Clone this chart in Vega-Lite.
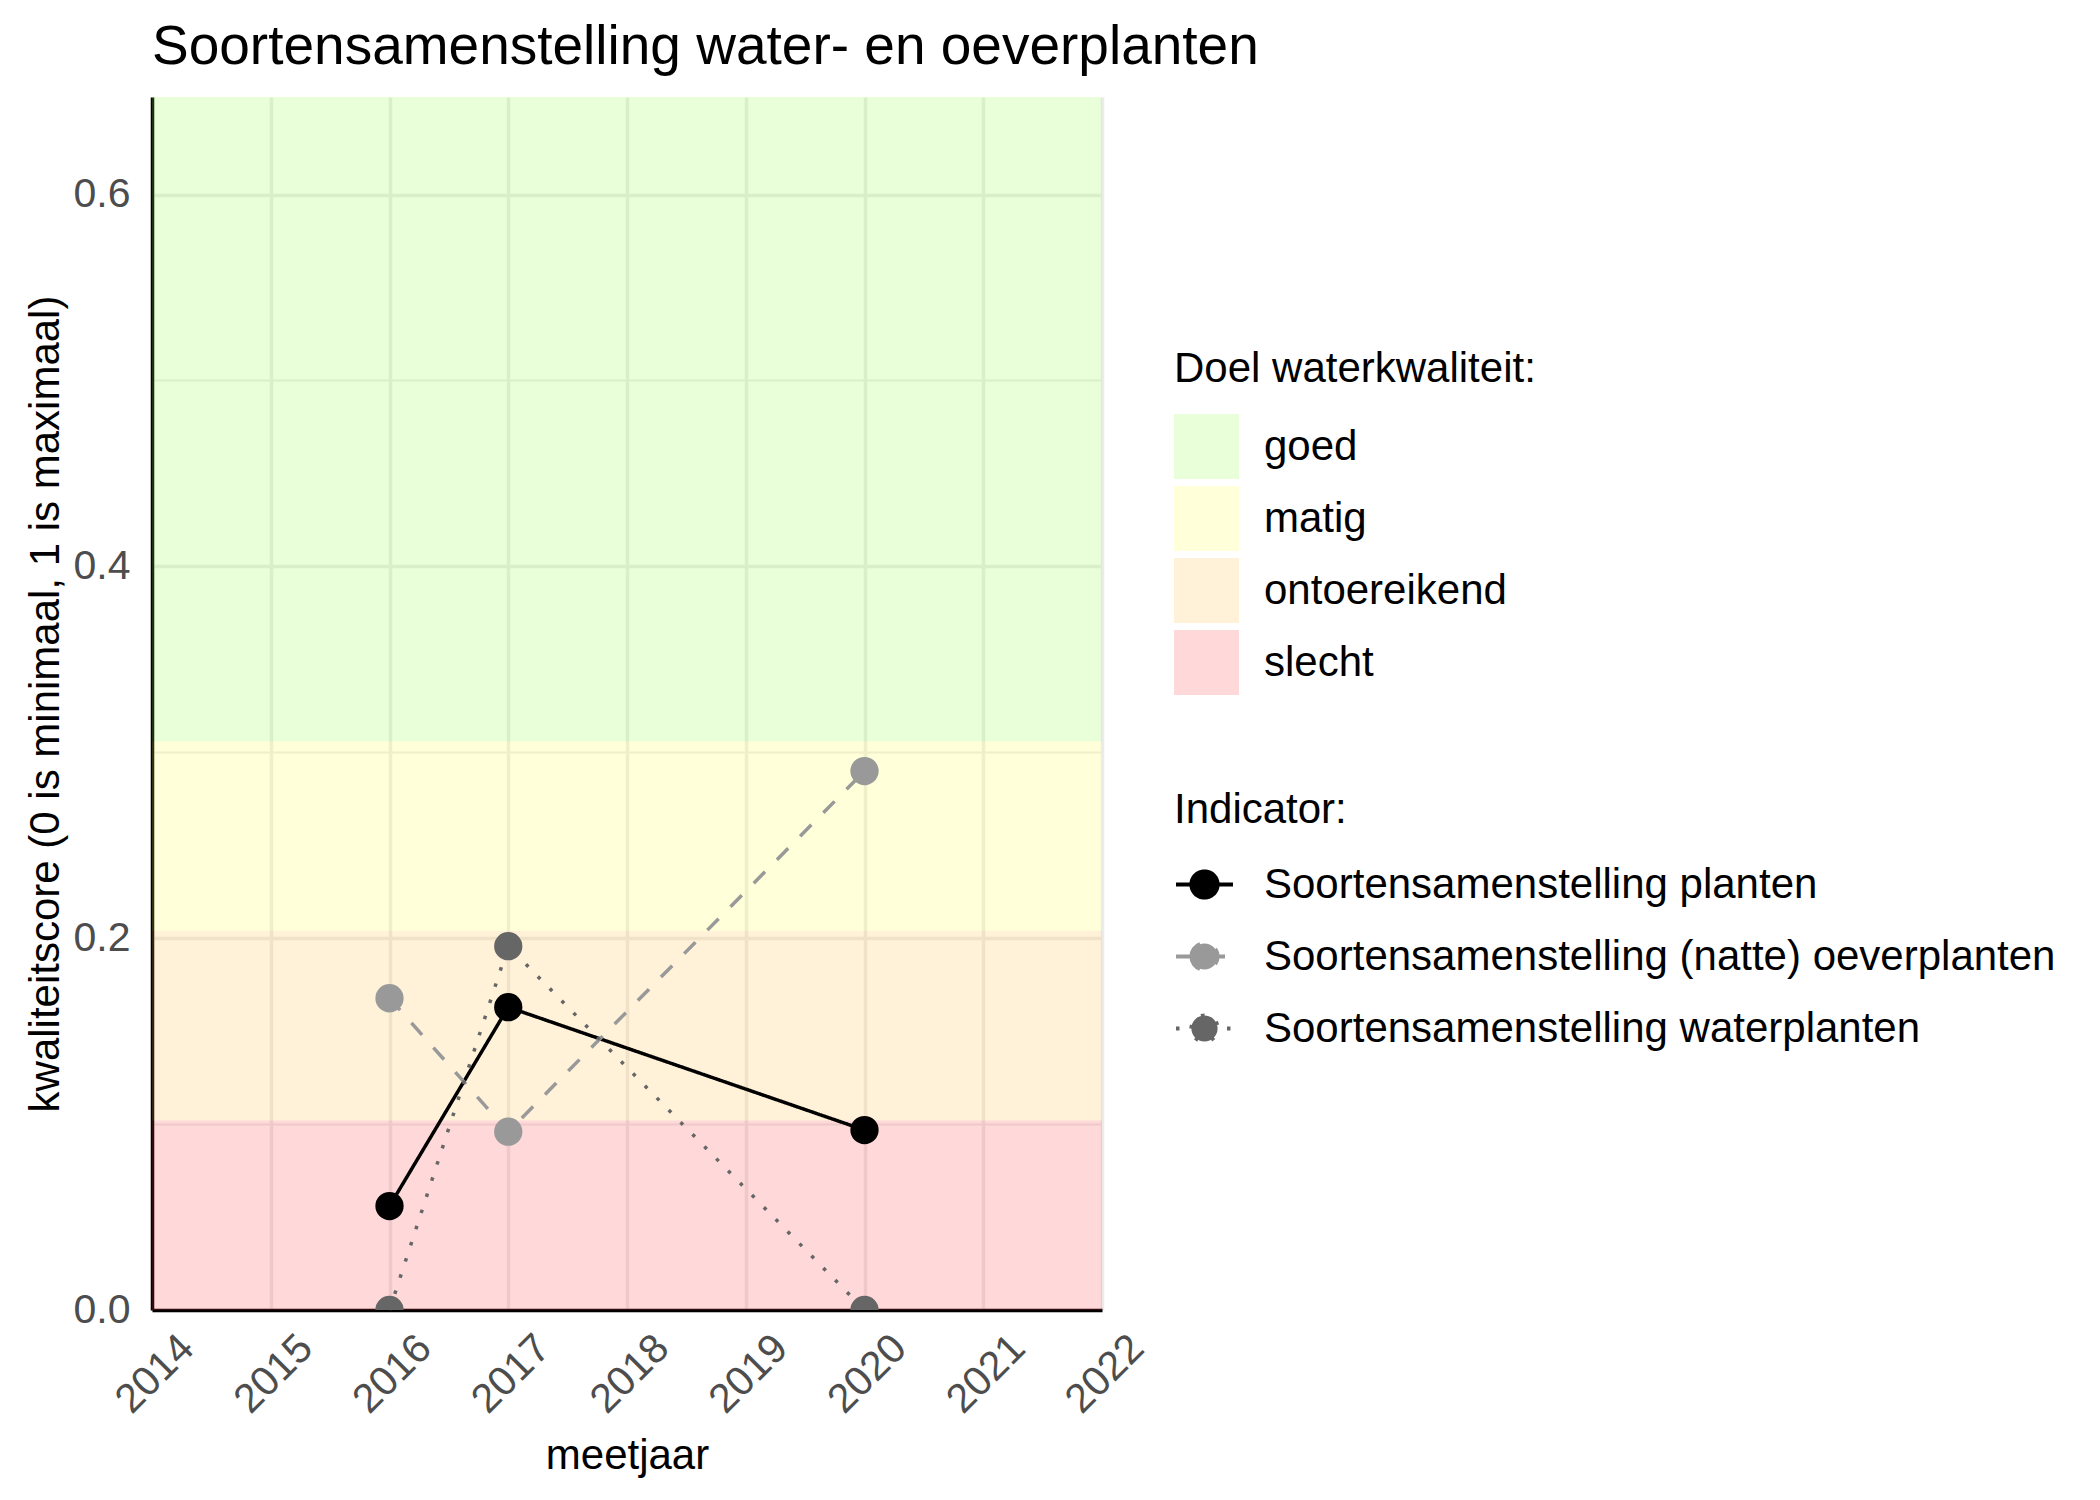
{
  "$schema": "https://vega.github.io/schema/vega-lite/v6.json",
  "autosize": {"type": "none"},
  "padding": {"left": 152, "top": 97, "right": 998, "bottom": 190},
  "width": 950,
  "height": 1213,
  "title": {
    "text": "Soortensamenstelling water- en oeverplanten",
    "anchor": "start",
    "frame": "group",
    "fontSize": 55,
    "fontWeight": "normal",
    "color": "black",
    "baseline": "alphabetic",
    "offset": -22
  },
  "datasets": {
    "bands": [
      {"klasse": "goed", "ymin": 0.306, "ymax": 0.6525},
      {"klasse": "matig", "ymin": 0.204, "ymax": 0.306},
      {"klasse": "ontoereikend", "ymin": 0.102, "ymax": 0.204},
      {"klasse": "slecht", "ymin": 0, "ymax": 0.102}
    ],
    "scores": [
      {"indicator": "Soortensamenstelling planten", "jaar": 2016, "score": 0.0559},
      {"indicator": "Soortensamenstelling planten", "jaar": 2017, "score": 0.1629},
      {"indicator": "Soortensamenstelling planten", "jaar": 2020, "score": 0.0968},
      {"indicator": "Soortensamenstelling (natte) oeverplanten", "jaar": 2016, "score": 0.1677},
      {"indicator": "Soortensamenstelling (natte) oeverplanten", "jaar": 2017, "score": 0.0959},
      {"indicator": "Soortensamenstelling (natte) oeverplanten", "jaar": 2020, "score": 0.2899},
      {"indicator": "Soortensamenstelling waterplanten", "jaar": 2016, "score": 0.0},
      {"indicator": "Soortensamenstelling waterplanten", "jaar": 2017, "score": 0.1957},
      {"indicator": "Soortensamenstelling waterplanten", "jaar": 2020, "score": 0.0}
    ]
  },
  "layer": [
    {
      "data": {"name": "bands"},
      "mark": {"type": "rect", "opacity": 0.2},
      "encoding": {
        "y": {
          "field": "ymin", "type": "quantitative",
          "scale": {"domain": [0, 0.6525], "nice": false, "zero": false},
          "axis": {
            "title": "kwaliteitscore (0 is minimaal, 1 is maximaal)",
            "values": [0, 0.1, 0.2, 0.3, 0.4, 0.5, 0.6],
            "labelExpr": "abs(datum.value*5-round(datum.value*5))<0.01 ? format(datum.value,'.1f') : ''",
            "gridWidth": {"condition": {"test": "abs(datum.value*5-round(datum.value*5))<0.01", "value": 3.5}, "value": 2},
            "labelPadding": 22,
            "titlePadding": 6
          }
        },
        "y2": {"field": "ymax"},
        "fill": {
          "field": "klasse", "type": "nominal",
          "scale": {"domain": ["goed", "matig", "ontoereikend", "slecht"], "range": ["#91FF41", "#FFFF41", "#FFBE41", "#FF3C41"]},
          "legend": {
            "title": "Doel waterkwaliteit:",
            "orient": "none",
            "legendX": 1022,
            "legendY": 252,
            "symbolType": "square",
            "symbolSize": 4225,
            "symbolOpacity": 0.2,
            "symbolStrokeWidth": 0,
            "rowPadding": 7,
            "titlePadding": 23,
            "labelOffset": 25
          }
        }
      }
    },
    {
      "data": {"name": "scores"},
      "mark": {"type": "line", "strokeWidth": 3.5},
      "encoding": {
        "x": {
          "field": "jaar", "type": "quantitative",
          "scale": {"domain": [2014, 2022], "nice": false, "zero": false},
          "axis": {
            "title": "meetjaar",
            "values": [2014, 2015, 2016, 2017, 2018, 2019, 2020, 2021, 2022],
            "format": "d",
            "labelAngle": -45,
            "labelAlign": "center",
            "labelBaseline": "middle",
            "labelPadding": 64,
            "labelOffset": 3,
            "labelFlush": false,
            "labelOverlap": false,
            "gridWidth": 3.5,
            "titlePadding": 15
          }
        },
        "y": {"field": "score", "type": "quantitative"},
        "color": {
          "field": "indicator", "type": "nominal",
          "scale": {"domain": ["Soortensamenstelling planten", "Soortensamenstelling (natte) oeverplanten", "Soortensamenstelling waterplanten"], "range": ["#000000", "#999999", "#666666"]},
          "legend": {
            "title": "Indicator:",
            "orient": "none",
            "legendX": 1022,
            "legendY": 693,
            "symbolType": "M-1,0H1M-0.46,0A0.46,0.46,0,1,1,0.46,0A0.46,0.46,0,1,1,-0.46,0Z",
            "symbolSize": 3249,
            "symbolStrokeWidth": 4,
            "rowPadding": 20,
            "titlePadding": 22,
            "labelOffset": 29,
            "encode": {"symbols": {"update": {"fill": {"scale": "color", "field": "value"}, "stroke": {"scale": "color", "field": "value"}}}}
          }
        },
        "strokeDash": {
          "field": "indicator", "type": "nominal",
          "scale": {"domain": ["Soortensamenstelling planten", "Soortensamenstelling (natte) oeverplanten", "Soortensamenstelling waterplanten"], "range": [[1, 0], [16, 17], [3.5, 13.5]]},
          "legend": {
            "title": "Indicator:",
            "orient": "none",
            "legendX": 1022,
            "legendY": 693,
            "symbolType": "M-1,0H1M-0.46,0A0.46,0.46,0,1,1,0.46,0A0.46,0.46,0,1,1,-0.46,0Z",
            "symbolSize": 3249,
            "symbolStrokeWidth": 4,
            "rowPadding": 20,
            "titlePadding": 22,
            "labelOffset": 29
          }
        }
      }
    },
    {
      "data": {"name": "scores"},
      "mark": {"type": "point", "filled": true, "opacity": 1, "size": 800, "clip": true},
      "encoding": {
        "x": {"field": "jaar", "type": "quantitative"},
        "y": {"field": "score", "type": "quantitative"},
        "color": {"field": "indicator", "type": "nominal"}
      }
    }
  ],
  "config": {
    "font": "Liberation Sans",
    "view": {"stroke": null},
    "axis": {
      "ticks": false,
      "domainColor": "black",
      "domainWidth": 3.5,
      "gridColor": "#EBEBEB",
      "labelFontSize": 41,
      "labelColor": "#4D4D4D",
      "labelFont": "Liberation Sans",
      "titleFont": "Liberation Sans",
      "titleFontSize": 42,
      "titleColor": "black",
      "titleFontWeight": "normal"
    },
    "legend": {
      "padding": 0,
      "titleFont": "Liberation Sans",
      "titleFontSize": 42,
      "titleFontWeight": "normal",
      "titleColor": "black",
      "labelFont": "Liberation Sans",
      "labelFontSize": 42,
      "labelColor": "black",
      "titleLimit": 1000,
      "labelLimit": 1000
    }
  }
}
